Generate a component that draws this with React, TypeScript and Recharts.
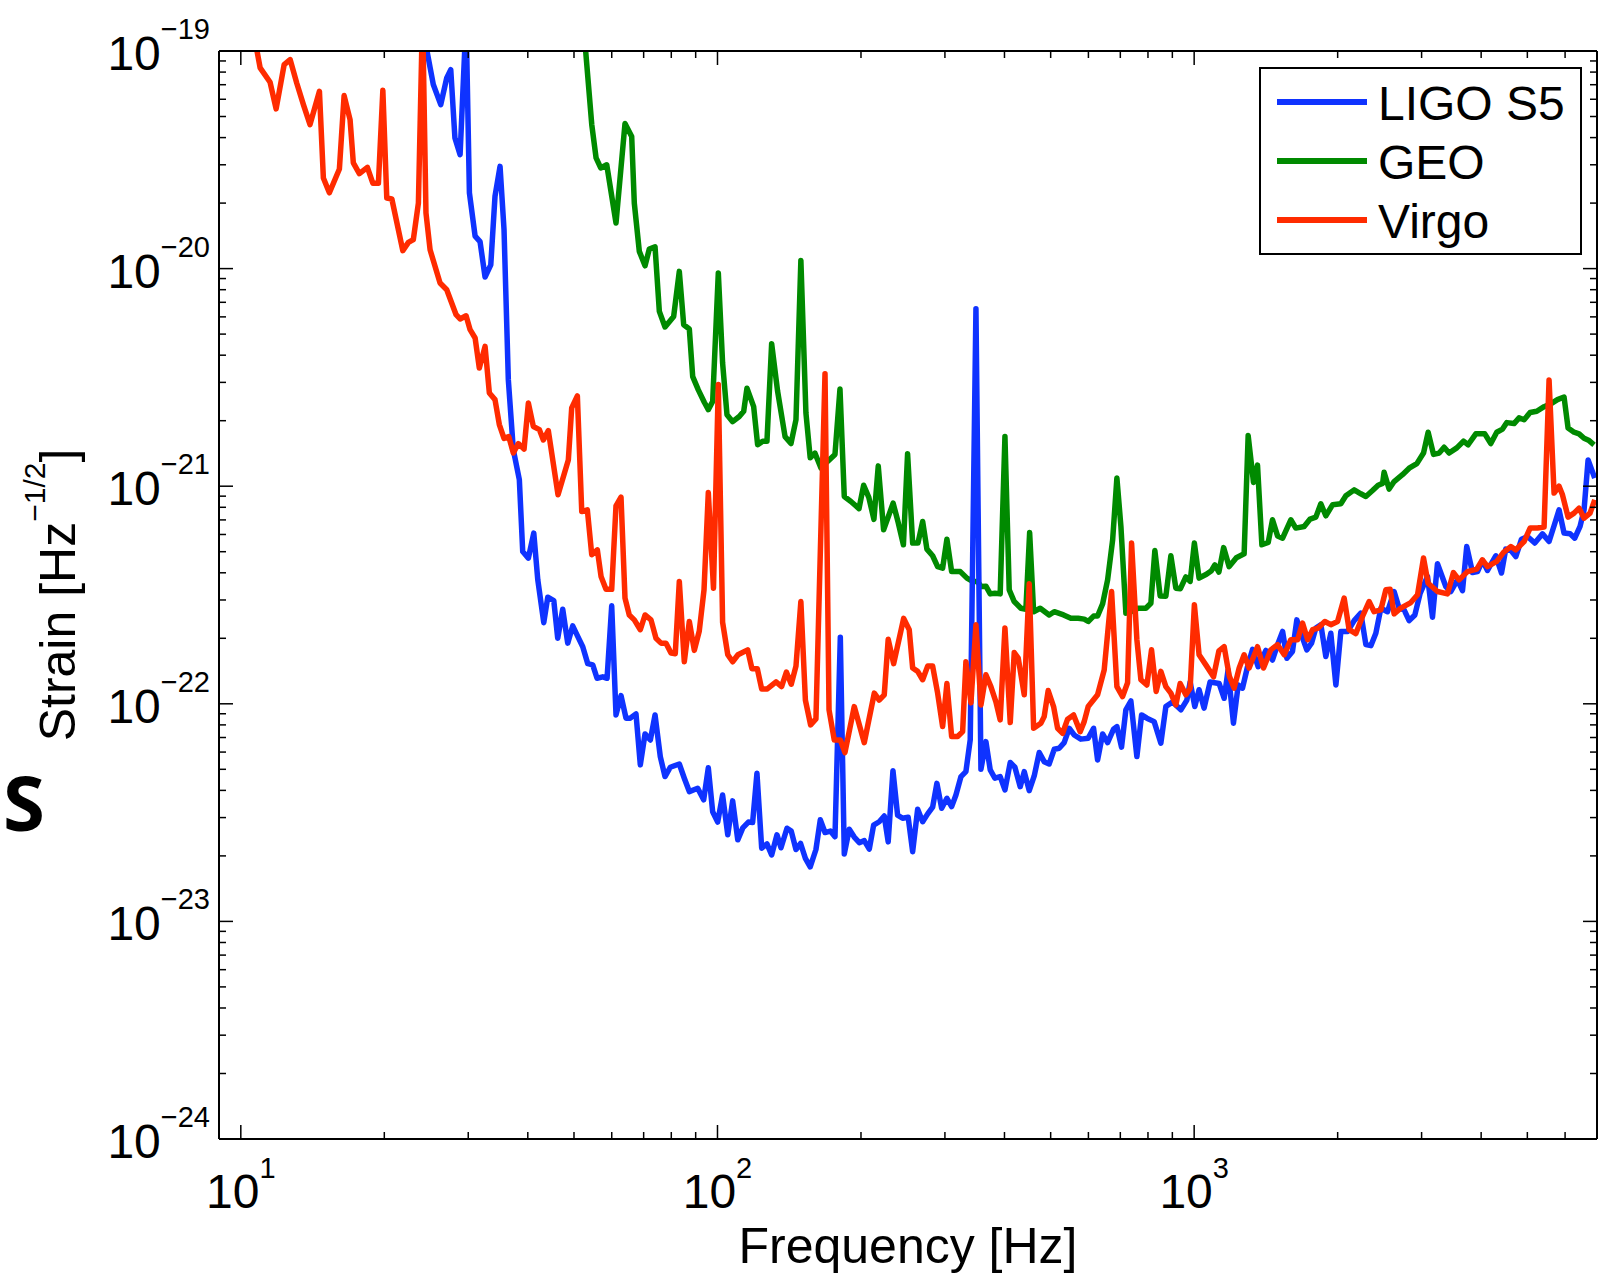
import { LineChart, Line, XAxis, YAxis, Legend } from 'recharts'

const FONT = '"Liberation Sans", Arial, Helvetica, sans-serif'
const BLUE = '#0f33ff'
const GREEN = '#008a00'
const RED = '#ff2b00'

// frequency [Hz] / strain [Hz^-1/2]
const ligoFreq = [
  23.88, 25.34, 26.27, 27.04, 27.57, 28.13, 28.84, 29.69, 30.17, 31.01,
  31.76, 32.54, 33.45, 34.14, 34.98, 35.66, 36.41, 37.3, 38.4, 39.03,
  40.11, 41.17, 41.98, 43.21, 44.05, 45.35, 46.22, 47.35, 48.51, 49.69,
  50.91, 52.16, 53.43, 54.74, 55.89, 57.44, 58.66, 59.99, 61.25, 62.75,
  64.28, 65.62, 67.46, 68.88, 70.47, 72.3, 73.96, 75.86, 77.61, 79.61,
  83.16, 85.19, 87.28, 90.88, 93.54, 95.66, 97.7, 100.1, 102.5, 105.1,
  107.6, 110.3, 113.0, 116.1, 118.5, 121.0, 123.8, 127.0, 129.9, 133.3,
  135.9, 139.9, 142.8, 146.1, 149.4, 152.9, 156.5, 160.9, 164.3, 168.1,
  172.5, 176.4, 181.0, 184.5, 189.0, 193.6, 198.4, 203.2, 208.2, 212.6,
  218.4, 223.8, 228.1, 233.4, 238.7, 244.5, 251.2, 256.7, 263.0, 269.4,
  276.0, 282.7, 288.6, 295.3, 302.9, 309.9, 316.4, 324.2, 332.0, 339.0,
  348.5, 357.0, 365.7, 373.4, 381.9, 391.8, 400.9, 411.3, 420.7, 431.6,
  440.1, 450.8, 461.8, 473.1, 484.6, 496.4, 508.6, 521.0, 533.7, 546.7,
  560.1, 578.5, 599.4, 615.2, 627.2, 642.6, 658.3, 677.5, 688.5, 704.1,
  719.0, 736.6, 758.3, 775.8, 795.8, 824.3, 851.4, 872.2, 900.8, 937.9,
  965.4, 980.8, 1003, 1024, 1049, 1080, 1128, 1156, 1178, 1209,
  1237, 1263, 1294, 1326, 1362, 1414, 1460, 1496, 1533, 1565,
  1608, 1642, 1680, 1723, 1763, 1800, 1844, 1889, 1935, 1983,
  2031, 2098, 2166, 2237, 2292, 2348, 2405, 2464, 2545, 2627,
  2692, 2757, 2825, 2904, 2979, 3087, 3162, 3239, 3372, 3454,
  3567, 3655, 3731, 3837, 3931, 4025, 4124, 4293, 4413, 4505,
  4616, 4729, 4861, 5003, 5183, 5380, 5553, 5689, 5828, 5970,
  6147, 6287, 6450, 6576, 6705, 6924,
]
const ligoStrain = [
  1.4e-19, 7.01e-20, 5.67e-20, 7.52e-20, 8.21e-20, 3.99e-20, 3.34e-20, 1.4e-19, 2.23e-20, 1.41e-20,
  1.33e-20, 9.15e-21, 1.04e-20, 2.15e-20, 2.95e-20, 1.51e-20, 3.08e-21, 1.47e-21, 1.07e-21, 5.01e-22,
  4.67e-22, 6.09e-22, 3.71e-22, 2.36e-22, 3.09e-22, 2.98e-22, 2.0e-22, 2.72e-22, 1.9e-22, 2.28e-22,
  2.04e-22, 1.83e-22, 1.53e-22, 1.51e-22, 1.31e-22, 1.33e-22, 1.31e-22, 2.82e-22, 8.89e-23, 1.09e-22,
  8.59e-23, 8.59e-23, 8.99e-23, 5.24e-23, 7.27e-23, 6.82e-23, 8.89e-23, 5.72e-23, 4.63e-23, 5.11e-23,
  5.29e-23, 4.55e-23, 3.95e-23, 4.09e-23, 3.62e-23, 5.08e-23, 3.19e-23, 2.86e-23, 3.81e-23, 2.5e-23,
  3.58e-23, 2.37e-23, 2.69e-23, 2.86e-23, 2.85e-23, 4.8e-23, 2.17e-23, 2.27e-23, 2.02e-23, 2.5e-23,
  2.18e-23, 2.68e-23, 2.6e-23, 2.14e-23, 2.28e-23, 1.95e-23, 1.78e-23, 2.14e-23, 2.93e-23, 2.56e-23,
  2.6e-23, 2.45e-23, 2.02e-22, 2.04e-23, 2.65e-23, 2.44e-23, 2.3e-23, 2.35e-23, 2.15e-23, 2.77e-23,
  2.87e-23, 3.05e-23, 2.32e-23, 4.93e-23, 3.08e-23, 2.98e-23, 3.01e-23, 2.09e-23, 3.28e-23, 2.87e-23,
  3.12e-23, 3.35e-23, 4.31e-23, 3.31e-23, 3.68e-23, 3.37e-23, 3.81e-23, 4.63e-23, 4.88e-23, 6.82e-23,
  6.54e-21, 5.0e-23, 6.7e-23, 4.97e-23, 4.55e-23, 4.63e-23, 4.02e-23, 5.37e-23, 5.11e-23, 4.16e-23,
  4.88e-23, 3.99e-23, 4.66e-23, 5.97e-23, 5.42e-23, 5.29e-23, 6.18e-23, 6.25e-23, 6.63e-23, 7.72e-23,
  7.19e-23, 6.88e-23, 6.95e-23, 7.72e-23, 5.52e-23, 7.27e-23, 6.63e-23, 7.64e-23, 7.86e-23, 6.32e-23,
  9.38e-23, 1.03e-22, 5.72e-23, 8.89e-23, 8.59e-23, 8.28e-23, 6.59e-23, 9.71e-23, 1.02e-22, 9.38e-23,
  1.04e-22, 1.26e-22, 9.71e-23, 1.16e-22, 9.55e-23, 1.26e-22, 1.24e-22, 1.06e-22, 1.43e-22, 8.14e-23,
  1.22e-22, 1.18e-22, 1.48e-22, 1.78e-22, 1.48e-22, 1.76e-22, 1.59e-22, 1.87e-22, 2.15e-22, 1.62e-22,
  1.74e-22, 2.43e-22, 2.07e-22, 1.77e-22, 1.9e-22, 2.23e-22, 2.31e-22, 1.65e-22, 2.11e-22, 1.22e-22,
  2.15e-22, 2.15e-22, 2.41e-22, 2.61e-22, 1.87e-22, 1.85e-22, 2.11e-22, 2.75e-22, 2.65e-22, 3.28e-22,
  2.75e-22, 2.7e-22, 2.41e-22, 2.56e-22, 3.22e-22, 3.85e-22, 2.5e-22, 4.4e-22, 3.46e-22, 3.28e-22,
  3.71e-22, 3.31e-22, 5.28e-22, 4.01e-22, 4.05e-22, 4.55e-22, 4.1e-22, 4.79e-22, 3.99e-22, 5.14e-22,
  5.07e-22, 4.75e-22, 5.71e-22, 5.87e-22, 5.48e-22, 6.04e-22, 5.57e-22, 6.58e-22, 7.79e-22, 6.09e-22,
  6.04e-22, 5.77e-22, 6.53e-22, 7.79e-22, 1.32e-21, 1.09e-21,
]

const geoFreq = [
  52.23, 54.48, 55.63, 56.89, 58.57, 61.25, 63.97, 66.07, 66.91, 68.55,
  70.47, 71.94, 73.96, 75.51, 77.61, 80.93, 83.16, 84.94, 87.28, 88.72,
  91.15, 93.82, 95.66, 97.7, 100.4, 102.5, 104.7, 107.6, 111.1, 113.5,
  115.3, 119.1, 121.4, 124.4, 127.0, 129.9, 133.7, 138.6, 142.6, 146.1,
  149.6, 153.3, 156.5, 160.1, 164.9, 170.2, 176.4, 180.7, 184.5, 190.5,
  198.1, 202.6, 207.7, 212.9, 217.4, 223.1, 233.6, 239.4, 245.5, 250.5,
  256.7, 263.4, 269.4, 275.0, 282.7, 289.6, 296.7, 302.9, 309.9, 323.1,
  333.7, 343.0, 351.4, 357.0, 365.7, 373.4, 381.9, 391.8, 400.9, 409.3,
  419.3, 433.0, 443.6, 451.7, 460.5, 475.3, 496.4, 508.6, 532.1, 551.3,
  571.1, 587.9, 599.4, 615.2, 627.2, 642.6, 658.3, 674.5, 688.5, 702.0,
  719.0, 736.6, 763.0, 791.9, 811.3, 827.1, 848.5, 872.2, 893.5, 915.3,
  935.7, 960.6, 980.8, 1001, 1024, 1061, 1087, 1105, 1127, 1153,
  1184, 1226, 1273, 1298, 1332, 1358, 1387, 1430, 1460, 1496,
  1533, 1595, 1634, 1701, 1751, 1800, 1844, 1889, 1951, 2031,
  2081, 2166, 2237, 2292, 2367, 2432, 2485, 2503, 2564, 2627,
  2735, 2825, 2932, 3028, 3096, 3178, 3266, 3345, 3426, 3556,
  3673, 3756, 3898, 4071, 4191, 4313, 4435, 4528, 4689, 4804,
  4922, 5067, 5233, 5421, 5598, 5783, 5970, 6087, 6266, 6419,
  6576, 6738, 6901,
]
const geoStrain = [
  1.4e-19, 4.59e-20, 3.23e-20, 2.9e-20, 3.0e-20, 1.62e-20, 4.64e-20, 4.05e-20, 2.0e-20, 1.2e-20,
  1.03e-20, 1.23e-20, 1.26e-20, 6.36e-21, 5.39e-21, 6.03e-21, 9.71e-21, 5.52e-21, 5.28e-21, 3.19e-21,
  2.77e-21, 2.43e-21, 2.25e-21, 2.45e-21, 9.55e-21, 3.68e-21, 2.13e-21, 1.98e-21, 2.09e-21, 2.21e-21,
  2.82e-21, 2.32e-21, 1.55e-21, 1.61e-21, 1.61e-21, 4.52e-21, 2.73e-21, 1.69e-21, 1.57e-21, 2.02e-21,
  1.09e-20, 2.17e-21, 1.35e-21, 1.42e-21, 1.21e-21, 1.3e-21, 1.4e-21, 2.8e-21, 8.97e-22, 8.51e-22,
  7.89e-22, 1.01e-21, 8.89e-22, 7.04e-22, 1.24e-21, 6.3e-22, 8.36e-22, 6.81e-22, 5.38e-22, 1.41e-21,
  5.48e-22, 5.48e-22, 6.88e-22, 5.14e-22, 4.79e-22, 4.27e-22, 4.2e-22, 5.71e-22, 4.05e-22, 4.05e-22,
  3.78e-22, 3.65e-22, 3.65e-22, 3.46e-22, 3.47e-22, 3.2e-22, 3.22e-22, 3.2e-22, 1.69e-21, 3.34e-22,
  2.95e-22, 2.75e-22, 2.72e-22, 6.12e-22, 2.65e-22, 2.75e-22, 2.56e-22, 2.65e-22, 2.56e-22, 2.47e-22,
  2.47e-22, 2.45e-22, 2.39e-22, 2.53e-22, 2.53e-22, 2.88e-22, 3.71e-22, 5.67e-22, 1.09e-21, 6.53e-22,
  2.61e-22, 2.65e-22, 2.75e-22, 2.75e-22, 2.9e-22, 5.06e-22, 3.13e-22, 3.12e-22, 4.79e-22, 3.4e-22,
  3.38e-22, 3.83e-22, 3.65e-22, 5.48e-22, 3.78e-22, 3.94e-22, 4.09e-22, 4.35e-22, 4.03e-22, 5.22e-22,
  4.27e-22, 4.69e-22, 4.89e-22, 1.71e-21, 1.04e-21, 1.25e-21, 5.38e-22, 5.51e-22, 7.01e-22, 5.91e-22,
  5.77e-22, 7.01e-22, 6.42e-22, 6.53e-22, 7.06e-22, 7.21e-22, 8.3e-22, 7.31e-22, 8.21e-22, 8.3e-22,
  9.03e-22, 9.62e-22, 9.23e-22, 8.97e-22, 9.55e-22, 1.01e-21, 1.03e-21, 1.16e-21, 9.7e-22, 1.05e-21,
  1.13e-21, 1.21e-21, 1.27e-21, 1.42e-21, 1.77e-21, 1.4e-21, 1.42e-21, 1.51e-21, 1.42e-21, 1.5e-21,
  1.61e-21, 1.55e-21, 1.74e-21, 1.74e-21, 1.57e-21, 1.77e-21, 1.83e-21, 1.96e-21, 1.94e-21, 2.06e-21,
  2.02e-21, 2.18e-21, 2.21e-21, 2.32e-21, 2.39e-21, 2.5e-21, 2.57e-21, 1.85e-21, 1.77e-21, 1.74e-21,
  1.66e-21, 1.62e-21, 1.55e-21,
]

const virgoFreq = [
  10.51, 10.98, 11.52, 11.86, 12.33, 12.69, 13.1, 13.53, 13.97, 14.62,
  14.9, 15.34, 16.1, 16.47, 16.95, 17.22, 17.73, 18.43, 18.92, 19.44,
  19.86, 20.24, 20.74, 21.87, 22.47, 23.01, 23.58, 24.06, 24.46, 24.95,
  26.18, 27.04, 28.29, 28.84, 29.69, 30.27, 31.01, 31.65, 32.54, 33.22,
  34.14, 34.86, 35.66, 36.48, 37.3, 38.21, 39.28, 40.11, 41.09, 42.3,
  43.12, 44.17, 46.29, 48.65, 49.45, 50.82, 51.91, 53.33, 54.48, 55.97,
  56.98, 58.36, 59.99, 61.25, 62.75, 63.97, 65.31, 66.91, 68.88, 70.47,
  72.53, 74.3, 76.12, 77.98, 79.89, 81.56, 83.16, 85.19, 87.28, 89.41,
  91.58, 93.7, 95.66, 98.08, 100.4, 102.5, 105.1, 107.6, 110.4, 115.7,
  118.1, 121.2, 123.8, 127.2, 132.7, 136.3, 139.5, 142.8, 146.1, 149.6,
  152.9, 156.8, 160.9, 168.1, 171.4, 175.8, 181.0, 185.1, 193.6, 203.2,
  213.3, 218.4, 223.8, 228.1, 234.2, 245.8, 252.5, 256.7, 263.0, 269.4,
  276.0, 282.7, 289.6, 296.7, 302.9, 309.9, 319.0, 326.8, 332.0, 340.2,
  348.5, 357.0, 365.7, 374.6, 383.8, 391.8, 400.9, 411.3, 419.3, 427.5,
  440.1, 450.8, 460.5, 476.9, 484.6, 494.0, 507.1, 517.0, 529.7, 542.6,
  558.5, 576.6, 587.9, 599.4, 627.2, 647.5, 671.1, 688.5, 707.6, 725.0,
  739.1, 758.3, 773.1, 795.8, 813.9, 832.3, 851.4, 872.2, 893.5, 915.3,
  934.5, 960.6, 980.8, 1001, 1024, 1058, 1098, 1127, 1156, 1185,
  1213, 1243, 1273, 1304, 1358, 1398, 1448, 1496, 1545, 1595,
  1648, 1688, 1730, 1772, 1820, 1880, 1935, 1999, 2064, 2114,
  2183, 2255, 2328, 2385, 2464, 2524, 2577, 2627, 2713, 2848,
  2942, 3028, 3096, 3239, 3400, 3499, 3595, 3744, 3916, 4025,
  4124, 4313, 4456, 4616, 4729, 4922, 5067, 5251, 5421, 5553,
  5689, 5828, 5925, 6087, 6266, 6419, 6576, 6769, 6924,
]
const virgoStrain = [
  1.4e-19, 8.36e-20, 7.18e-20, 5.42e-20, 8.66e-20, 9.13e-20, 7.13e-20, 5.67e-20, 4.59e-20, 6.53e-20,
  2.61e-20, 2.23e-20, 2.87e-20, 6.24e-20, 4.84e-20, 3.06e-20, 2.73e-20, 2.92e-20, 2.47e-20, 2.47e-20,
  6.6e-20, 2.11e-20, 2.09e-20, 1.21e-20, 1.32e-20, 1.36e-20, 2.0e-20, 1.5e-19, 1.8e-20, 1.22e-20,
  8.59e-21, 8.0e-21, 6.14e-21, 5.87e-21, 6.07e-21, 5.24e-21, 4.8e-21, 3.49e-21, 4.39e-21, 2.68e-21,
  2.5e-21, 1.92e-21, 1.66e-21, 1.69e-21, 1.42e-21, 1.57e-21, 1.48e-21, 2.41e-21, 1.88e-21, 1.82e-21,
  1.63e-21, 1.8e-21, 9.13e-22, 1.32e-21, 2.29e-21, 2.6e-21, 7.65e-22, 7.79e-22, 4.84e-22, 5.1e-22,
  3.85e-22, 3.36e-22, 3.36e-22, 8.13e-22, 8.91e-22, 3.06e-22, 2.56e-22, 2.43e-22, 2.19e-22, 2.56e-22,
  2.43e-22, 2.0e-22, 1.9e-22, 1.9e-22, 1.71e-22, 1.7e-22, 3.65e-22, 1.56e-22, 2.39e-22, 1.76e-22,
  2.16e-22, 3.34e-22, 9.35e-22, 3.4e-22, 2.93e-21, 2.37e-22, 1.68e-22, 1.56e-22, 1.68e-22, 1.77e-22,
  1.45e-22, 1.45e-22, 1.17e-22, 1.17e-22, 1.26e-22, 1.2e-22, 1.4e-22, 1.23e-22, 1.49e-22, 2.95e-22,
  1.04e-22, 8.0e-23, 8.52e-23, 3.29e-21, 9.38e-23, 6.82e-23, 6.82e-23, 5.97e-23, 9.71e-23, 6.63e-23,
  1.12e-22, 1.04e-22, 1.1e-22, 1.98e-22, 1.53e-22, 2.47e-22, 2.19e-22, 1.46e-22, 1.41e-22, 1.29e-22,
  1.49e-22, 1.49e-22, 1.12e-22, 7.86e-23, 1.24e-22, 7.07e-23, 7.07e-23, 7.45e-23, 1.56e-22, 1.01e-22,
  2.31e-22, 9.88e-23, 1.36e-22, 1.2e-22, 1.02e-22, 8.43e-23, 2.23e-22, 8.2e-23, 1.72e-22, 1.62e-22,
  1.1e-22, 3.56e-22, 7.72e-23, 8.14e-23, 8.73e-23, 1.15e-22, 9.71e-23, 7.72e-23, 7.32e-23, 8.5e-23,
  8.89e-23, 7.45e-23, 8.28e-23, 9.71e-23, 1.1e-22, 1.43e-22, 3.28e-22, 1.2e-22, 1.08e-22, 1.25e-22,
  5.48e-22, 1.97e-22, 1.29e-22, 1.22e-22, 1.77e-22, 1.14e-22, 1.41e-22, 1.2e-22, 1.12e-22, 9.88e-23,
  1.24e-22, 1.1e-22, 1.18e-22, 2.85e-22, 1.68e-22, 1.51e-22, 1.33e-22, 1.75e-22, 1.83e-22, 1.34e-22,
  1.18e-22, 1.46e-22, 1.68e-22, 1.46e-22, 1.83e-22, 1.46e-22, 1.77e-22, 1.87e-22, 1.68e-22, 1.97e-22,
  1.97e-22, 2.35e-22, 1.97e-22, 2.19e-22, 2.23e-22, 2.39e-22, 2.31e-22, 2.39e-22, 3.06e-22, 2.19e-22,
  2.1e-22, 2.52e-22, 2.95e-22, 2.65e-22, 2.7e-22, 3.34e-22, 3.36e-22, 2.59e-22, 2.75e-22, 2.92e-22,
  3.17e-22, 4.68e-22, 3.58e-22, 3.28e-22, 3.2e-22, 4.01e-22, 3.71e-22, 4.05e-22, 4.16e-22, 4.59e-22,
  4.27e-22, 4.51e-22, 4.96e-22, 5.28e-22, 5.1e-22, 5.57e-22, 6.42e-22, 6.42e-22, 6.49e-22, 3.08e-21,
  9.3e-22, 1.0e-21, 9.13e-22, 7.21e-22, 7.52e-22, 7.93e-22, 7.13e-22, 7.52e-22, 8.66e-22,
]

// axis ticks: decade starts and the multipliers inside each decade
const xDecadeStarts = [10, 100, 1000]
const yDecadeStarts = [1e-24, 1e-23, 1e-22, 1e-21, 1e-20]
const multipliers = [1, 2, 3, 4, 5, 6, 7, 8, 9]
const xDomain = [9, 7000]
const yDomain = [1e-24, 1e-19]

const legendOrder = ['LIGO S5', 'GEO', 'Virgo']

const xTicks = xDecadeStarts.flatMap((d) => multipliers.map((m) => m * d)).filter((v) => v <= xDomain[1])
const yTicks = [...yDecadeStarts.flatMap((d) => multipliers.map((m) => m * d)), yDomain[1]]

const toPoints = (freq: number[], strain: number[]) =>
  freq.slice(0, strain.length).map((f, i) => ({ f, h: strain[i] }))

const ligoData = toPoints(ligoFreq, ligoStrain)
const geoData = toPoints(geoFreq, geoStrain)
const virgoData = toPoints(virgoFreq, virgoStrain)

const isMajor = (v: number) => {
  const l = Math.log10(v)
  return Math.abs(l - Math.round(l)) < 1e-6
}
const expText = (v: number) => {
  const e = Math.round(Math.log10(v))
  return e < 0 ? `\u2212${-e}` : `${e}`
}

const MAJOR = 14
const MINOR = 7
const LINE_W = 5.5

function BottomTick({ x, y, payload }: any) {
  const major = isMajor(payload.value)
  return (
    <g>
      <line x1={x} x2={x} y1={y} y2={y - (major ? MAJOR : MINOR)} stroke="#000" strokeWidth={1.5} />
      {major && (
        <text x={x} y={y + 69} textAnchor="middle" fontFamily={FONT} fontSize={48} fill="#000">
          <tspan>10</tspan>
          <tspan dy={-30} fontSize={29}>{expText(payload.value)}</tspan>
        </text>
      )}
    </g>
  )
}

function TopTick({ x, y, payload }: any) {
  const major = isMajor(payload.value)
  return <line x1={x} x2={x} y1={y} y2={y + (major ? MAJOR : MINOR)} stroke="#000" strokeWidth={1.5} />
}

function LeftTick({ x, y, payload }: any) {
  const major = isMajor(payload.value)
  return (
    <g>
      <line x1={x} x2={x + (major ? MAJOR : MINOR)} y1={y} y2={y} stroke="#000" strokeWidth={1.5} />
      {major && (
        <text x={x - 9} y={y + 19} textAnchor="end" fontFamily={FONT} fontSize={48} fill="#000">
          <tspan>10</tspan>
          <tspan dy={-31} fontSize={29}>{expText(payload.value)}</tspan>
        </text>
      )}
    </g>
  )
}

function RightTick({ x, y, payload }: any) {
  const major = isMajor(payload.value)
  return <line x1={x} x2={x - (major ? MAJOR : MINOR)} y1={y} y2={y} stroke="#000" strokeWidth={1.5} />
}

function XLabel({ viewBox }: any) {
  const cx = viewBox ? viewBox.x + viewBox.width / 2 : 908
  const top = viewBox ? viewBox.y : 1139
  return (
    <text x={cx} y={top + 124} textAnchor="middle" fontFamily={FONT} fontSize={50} fill="#000">
      Frequency [Hz]
    </text>
  )
}

function YLabel({ viewBox }: any) {
  const cy = viewBox ? viewBox.y + viewBox.height / 2 : 595
  const cx = 75
  return (
    <text
      x={cx}
      y={cy}
      transform={`rotate(-90 ${cx} ${cy})`}
      textAnchor="middle"
      fontFamily={FONT}
      fontSize={50}
      fill="#000"
    >
      <tspan>Strain [Hz</tspan>
      <tspan dy={-30} fontSize={30}>{'\u22121/2'}</tspan>
      <tspan dy={30}>]</tspan>
    </text>
  )
}

function LegendBox({ payload }: any) {
  const items = legendOrder
    .map((name) => (payload || []).find((p: any) => p.value === name))
    .filter(Boolean)
  return (
    <svg width={323} height={188} style={{ display: 'block' }}>
      <rect x={1} y={1} width={321} height={186} fill="#fff" stroke="#000" strokeWidth={2} />
      {items.map((item: any, i: number) => {
        const cy = 35 + i * 59
        return (
          <g key={item.value}>
            <line x1={18} x2={108} y1={cy} y2={cy} stroke={item.color} strokeWidth={6} />
            <text x={119} y={cy + 18} fontFamily={FONT} fontSize={48} fill="#000">
              {item.value}
            </text>
          </g>
        )
      })}
    </svg>
  )
}

export default function App() {
  return (
    <div style={{ position: 'absolute', left: 0, top: 0, width: 1613, height: 1280, background: '#fff' }}>
      <LineChart width={1613} height={1280} margin={{ top: 0, right: 0, bottom: 0, left: 0 }}>
        <XAxis
          xAxisId="bottom"
          dataKey="f"
          type="number"
          scale="log"
          domain={xDomain}
          allowDataOverflow
          ticks={xTicks}
          interval={0}
          height={141}
          tickSize={0}
          tickMargin={0}
          tickLine={false}
          axisLine={{ stroke: '#000', strokeWidth: 2 }}
          tick={BottomTick}
          label={{ content: XLabel }}
        />
        <XAxis
          xAxisId="top"
          orientation="top"
          dataKey="f"
          type="number"
          scale="log"
          domain={xDomain}
          allowDataOverflow
          ticks={xTicks}
          interval={0}
          height={51}
          tickSize={0}
          tickMargin={0}
          tickLine={false}
          axisLine={{ stroke: '#000', strokeWidth: 2 }}
          tick={TopTick}
        />
        <YAxis
          yAxisId="left"
          type="number"
          scale="log"
          domain={yDomain}
          allowDataOverflow
          ticks={yTicks}
          interval={0}
          width={219}
          tickSize={0}
          tickMargin={0}
          tickLine={false}
          axisLine={{ stroke: '#000', strokeWidth: 2 }}
          tick={LeftTick}
          label={{ content: YLabel }}
        />
        <YAxis
          yAxisId="right"
          orientation="right"
          type="number"
          scale="log"
          domain={yDomain}
          allowDataOverflow
          ticks={yTicks}
          interval={0}
          width={16}
          tickSize={0}
          tickMargin={0}
          tickLine={false}
          axisLine={{ stroke: '#000', strokeWidth: 2 }}
          tick={RightTick}
        />
        <Line
          data={geoData}
          dataKey="h"
          name="GEO"
          xAxisId="bottom"
          yAxisId="left"
          stroke={GREEN}
          strokeWidth={LINE_W}
          strokeLinejoin="round"
          dot={false}
          activeDot={false}
          isAnimationActive={false}
        />
        <Line
          data={ligoData}
          dataKey="h"
          name="LIGO S5"
          xAxisId="bottom"
          yAxisId="left"
          stroke={BLUE}
          strokeWidth={LINE_W}
          strokeLinejoin="round"
          dot={false}
          activeDot={false}
          isAnimationActive={false}
        />
        <Line
          data={virgoData}
          dataKey="h"
          name="Virgo"
          xAxisId="bottom"
          yAxisId="left"
          stroke={RED}
          strokeWidth={LINE_W}
          strokeLinejoin="round"
          dot={false}
          activeDot={false}
          isAnimationActive={false}
        />
        <Legend
          verticalAlign="middle"
          align="center"
          wrapperStyle={{ left: 1259, top: 67, width: 323, height: 188, margin: 0, padding: 0 }}
          content={LegendBox}
        />
      </LineChart>
      <svg width={60} height={1280} style={{ position: 'absolute', left: 0, top: 0, pointerEvents: 'none' }}>
        <text x={3} y={831} fontFamily='"Open Sans", "DejaVu Sans", sans-serif' fontWeight={700} fontSize={76} fill="#000">
          S
        </text>
      </svg>
    </div>
  )
}
